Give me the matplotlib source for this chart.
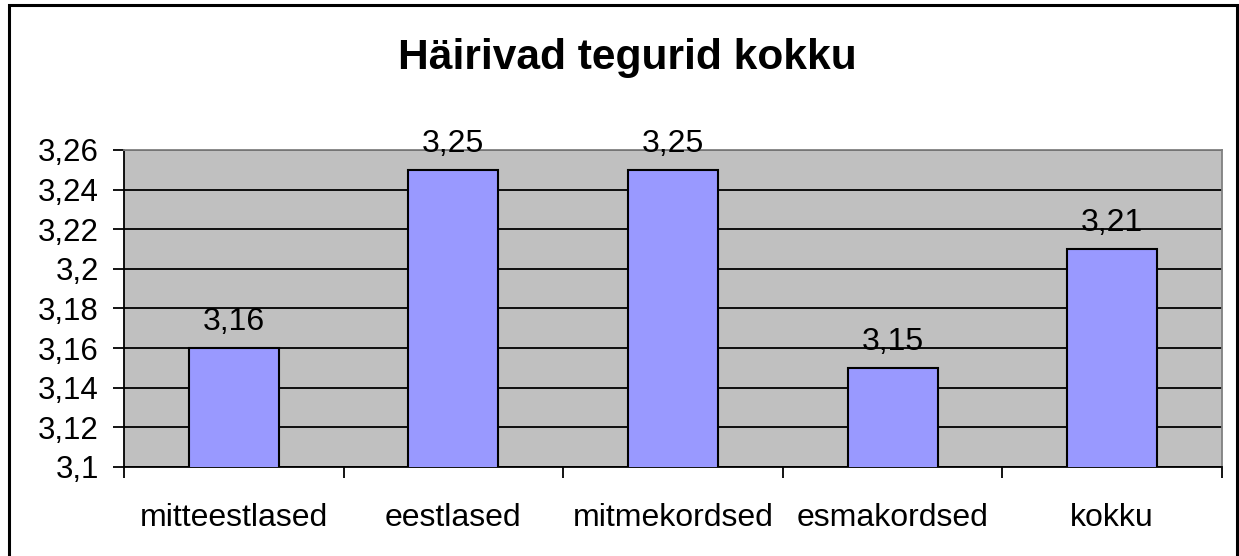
import matplotlib
matplotlib.use("Agg")
import matplotlib.pyplot as plt
from matplotlib.patches import Rectangle
from matplotlib.ticker import FixedLocator

categories = ["mitteestlased", "eestlased", "mitmekordsed", "esmakordsed", "kokku"]
values = [3.16, 3.25, 3.25, 3.15, 3.21]
yticks = [3.10, 3.12, 3.14, 3.16, 3.18, 3.20, 3.22, 3.24, 3.26]
ytick_labels = ["3,1", "3,12", "3,14", "3,16", "3,18", "3,2", "3,22", "3,24", "3,26"]
title = "Häirivad tegurid kokku"

plt.rcParams['font.family'] = ['Liberation Sans', 'DejaVu Sans']

fig = plt.figure(figsize=(12.39, 5.56), dpi=100)
fig.patches.append(Rectangle((9/1239, -10/556), 1228/1239, 561/556, transform=fig.transFigure,
                             fill=False, edgecolor='black', linewidth=2.2))

ax = fig.add_axes([124/1239, 1 - 467/556, 1098/1239, 317/556])
ax.set_facecolor('#C0C0C0')
x = list(range(len(categories)))
ax.bar(x, values, width=0.41, color='#9999FF', edgecolor='black', linewidth=1.5, zorder=3)
for xi, v in zip(x, values):
    ax.annotate(f"{v:.2f}".replace('.', ','), (xi, v), xytext=(0, 13), textcoords='offset points',
                ha='center', va='baseline', fontsize=23, zorder=4)

ax.set_ylim(3.10, 3.26)
ax.set_xlim(-0.5, len(categories) - 0.5)
ax.set_yticks(yticks)
ax.set_yticklabels(ytick_labels)
ax.yaxis.grid(True, color='black', linewidth=1.3, zorder=1)
ax.set_axisbelow(True)
ax.tick_params(axis='y', length=8, width=1.3, pad=10, labelsize=22.5)
ax.set_xticks(x)
ax.set_xticklabels(categories)
ax.tick_params(axis='x', which='major', length=0, pad=26, labelsize=23)
ax.xaxis.set_minor_locator(FixedLocator([i - 0.5 for i in range(len(categories) + 1)]))
ax.tick_params(axis='x', which='minor', length=8, width=1.3, direction='out')

for s in ['top', 'right']:
    ax.spines[s].set_color('#808080')
    ax.spines[s].set_linewidth(1.3)
for s in ['left', 'bottom']:
    ax.spines[s].set_color('black')
    ax.spines[s].set_linewidth(1.3)

fig.text(627/1239, 1 - 58/556, title, ha='center', va='center', fontsize=30.6, fontweight='bold')

fig.savefig("out.png", dpi=100)
